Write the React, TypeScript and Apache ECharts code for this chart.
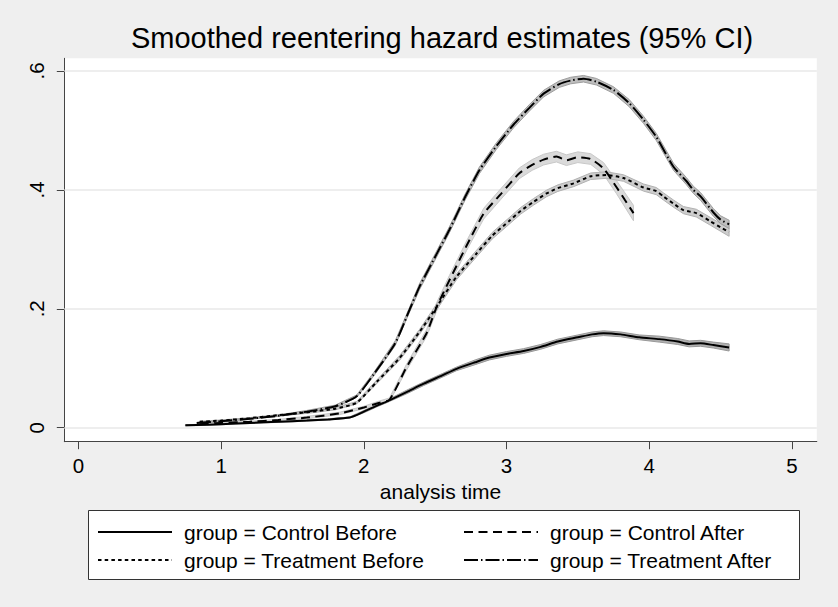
import React, { useEffect, useRef } from 'react';
import * as echarts from 'echarts';

const TITLE = 'Smoothed reentering hazard estimates (95% CI)';
const X_NAME = 'analysis time';
const X_TICKS = [0, 1, 2, 3, 4, 5];
const Y_TICKS = [0, 0.2, 0.4, 0.6];
const GROUPS = [
  'group = Control Before',
  'group = Control After',
  'group = Treatment Before',
  'group = Treatment After',
];

// Control Before (solid)
const cbX = [0.75, 0.9, 1.0, 1.2, 1.4, 1.6, 1.75, 1.9, 2.0, 2.1, 2.16, 2.3, 2.42, 2.55, 2.65, 2.78, 2.88, 3.0, 3.12, 3.24, 3.36, 3.5, 3.6, 3.68, 3.8, 3.93, 4.07, 4.2, 4.28, 4.36, 4.45, 4.56];
const cbY = [0.004, 0.005, 0.006, 0.008, 0.010, 0.012, 0.014, 0.017, 0.027, 0.038, 0.044, 0.060, 0.074, 0.088, 0.099, 0.110, 0.118, 0.124, 0.129, 0.136, 0.145, 0.152, 0.157, 0.159, 0.157, 0.152, 0.149, 0.145, 0.141, 0.142, 0.139, 0.135];
const cbCI = [0.001, 0.001, 0.001, 0.001, 0.001, 0.001, 0.001, 0.001, 0.002, 0.002, 0.002, 0.003, 0.003, 0.003, 0.003, 0.004, 0.004, 0.004, 0.004, 0.004, 0.004, 0.004, 0.004, 0.004, 0.004, 0.004, 0.005, 0.005, 0.005, 0.005, 0.005, 0.006];

// Control After (dashed)
const caX = [0.85, 1.0, 1.2, 1.4, 1.6, 1.83, 2.0, 2.11, 2.18, 2.3, 2.44, 2.51, 2.6, 2.72, 2.84, 2.96, 3.09, 3.18, 3.26, 3.35, 3.42, 3.5, 3.59, 3.68, 3.77, 3.83, 3.89];
const caY = [0.006, 0.008, 0.010, 0.013, 0.017, 0.024, 0.034, 0.042, 0.047, 0.102, 0.159, 0.203, 0.248, 0.306, 0.360, 0.393, 0.428, 0.442, 0.451, 0.456, 0.450, 0.455, 0.452, 0.436, 0.405, 0.383, 0.361];
const caCI = [0.001, 0.001, 0.001, 0.001, 0.002, 0.002, 0.002, 0.003, 0.003, 0.005, 0.006, 0.007, 0.008, 0.008, 0.009, 0.009, 0.009, 0.009, 0.009, 0.009, 0.009, 0.009, 0.009, 0.010, 0.011, 0.012, 0.013];

// Treatment Before (dotted)
const tbX = [0.85, 1.0, 1.2, 1.4, 1.6, 1.8, 1.95, 2.09, 2.25, 2.39, 2.51, 2.65, 2.79, 2.9, 3.02, 3.1, 3.19, 3.28, 3.36, 3.47, 3.59, 3.7, 3.82, 3.96, 4.05, 4.1, 4.17, 4.24, 4.33, 4.43, 4.5, 4.56];
const tbY = [0.010, 0.012, 0.016, 0.021, 0.026, 0.032, 0.042, 0.077, 0.117, 0.161, 0.203, 0.254, 0.293, 0.323, 0.348, 0.365, 0.380, 0.394, 0.403, 0.411, 0.423, 0.425, 0.420, 0.404, 0.398, 0.389, 0.377, 0.366, 0.361, 0.347, 0.337, 0.329];
const tbCI = [0.001, 0.001, 0.001, 0.001, 0.002, 0.002, 0.002, 0.003, 0.004, 0.004, 0.005, 0.005, 0.0055, 0.0055, 0.0055, 0.0055, 0.0055, 0.0055, 0.0055, 0.0055, 0.0055, 0.0055, 0.0055, 0.006, 0.006, 0.006, 0.006, 0.006, 0.0065, 0.0065, 0.0065, 0.007];

// Treatment After (long dash - dot)
const taX = [0.83, 1.0, 1.2, 1.4, 1.6, 1.8, 1.95, 2.07, 2.22, 2.32, 2.39, 2.51, 2.6, 2.71, 2.81, 2.93, 3.05, 3.16, 3.26, 3.37, 3.45, 3.54, 3.63, 3.75, 3.86, 3.96, 4.05, 4.17, 4.26, 4.31, 4.36, 4.45, 4.5, 4.56];
const taY = [0.008, 0.011, 0.015, 0.020, 0.027, 0.036, 0.053, 0.090, 0.142, 0.198, 0.237, 0.292, 0.333, 0.388, 0.433, 0.474, 0.510, 0.538, 0.562, 0.578, 0.584, 0.587, 0.582, 0.568, 0.546, 0.518, 0.489, 0.439, 0.415, 0.400, 0.389, 0.362, 0.350, 0.342];
const taCI = [0.001, 0.001, 0.001, 0.001, 0.002, 0.002, 0.002, 0.003, 0.004, 0.004, 0.005, 0.005, 0.005, 0.005, 0.0055, 0.0055, 0.0055, 0.0055, 0.0055, 0.0055, 0.0055, 0.0055, 0.0055, 0.0055, 0.006, 0.006, 0.006, 0.006, 0.006, 0.006, 0.0065, 0.0065, 0.0065, 0.007];

const FONT = '"Liberation Sans", Arial, Helvetica, sans-serif';

function bandSeries(name: string, xs: number[], ys: number[], ci: number[], fill: string, stroke: string) {
  const data = xs.map((x, i) => [x, ys[i] - ci[i], ys[i] + ci[i]]);
  return {
    type: 'custom',
    name,
    z: 2,
    silent: true,
    encode: { x: 0, y: [1, 2] },
    data,
    renderItem: (params: any, api: any) => {
      if (params.dataIndex !== 0) return null;
      const pts: number[][] = [];
      for (let i = 0; i < data.length; i++) pts.push(api.coord([data[i][0], data[i][2]]));
      for (let i = data.length - 1; i >= 0; i--) pts.push(api.coord([data[i][0], data[i][1]]));
      return {
        type: 'polygon',
        shape: { points: pts },
        style: { fill, stroke, lineWidth: 1 },
      };
    },
  };
}

function lineSeries(name: string, xs: number[], ys: number[], type: any, extra: any = {}) {
  return {
    type: 'line',
    name,
    z: 3,
    silent: true,
    symbol: 'none',
    showSymbol: false,
    smooth: 0.2,
    data: xs.map((x, i) => [x, ys[i]]),
    itemStyle: { color: '#000', opacity: 0 },
    lineStyle: { color: '#000', width: 2, type },
    emphasis: { disabled: true },
    ...extra,
  };
}

const legendCommon = {
  orient: 'vertical',
  top: 520,
  padding: 0,
  itemWidth: 74,
  itemHeight: 24,
  itemGap: 4,
  selectedMode: false,
  itemStyle: { opacity: 0, borderWidth: 0 },
  lineStyle: { width: 2, opacity: 1 },
  textStyle: { fontSize: 21, color: '#000', fontFamily: FONT, lineHeight: 24, padding: [0, 0, 0, 7] },
};

export default function App() {
  const ref = useRef<HTMLDivElement>(null);
  useEffect(() => {
    if (!ref.current) return;
    const chart = echarts.init(ref.current, undefined, { renderer: 'svg' });
    const option: any = {
      animation: false,
      backgroundColor: '#EFEFEF',
      textStyle: { fontFamily: FONT },
      grid: {
        left: 64.3,
        right: 21.2,
        top: 58.3,
        bottom: 165.3,
        show: true,
        backgroundColor: '#fff',
        borderWidth: 0,
      },
      xAxis: {
        type: 'value',
        min: -0.0988,
        max: 5.1745,
        axisLine: { show: true, onZero: false, lineStyle: { color: '#444', width: 1 } },
        axisTick: { show: true, length: 7.5, customValues: X_TICKS, lineStyle: { color: '#444' } },
        axisLabel: { customValues: X_TICKS, margin: 13, fontSize: 20.5, color: '#000', fontFamily: FONT },
        splitLine: { show: false },
        name: X_NAME,
        nameLocation: 'middle',
        nameGap: 29,
        nameTextStyle: { fontSize: 21, color: '#000', fontFamily: FONT },
      },
      yAxis: {
        type: 'value',
        min: -0.02355,
        max: 0.6214,
        axisLine: { show: true, onZero: false, lineStyle: { color: '#444', width: 1 } },
        axisTick: { show: true, length: 7.5, customValues: Y_TICKS, lineStyle: { color: '#444' } },
        axisLabel: {
          customValues: Y_TICKS,
          rotate: 90,
          margin: 17,
          fontSize: 20.5,
          color: '#000',
          fontFamily: FONT,
          formatter: (v: number) => (v === 0 ? '0' : String(Math.round(v * 10) / 10).replace(/^0/, '')),
        },
        splitLine: { show: false },
      },
      legend: [
        { ...legendCommon, left: 97, data: [GROUPS[0], GROUPS[2]] },
        { ...legendCommon, left: 463, data: [GROUPS[1], GROUPS[3]] },
      ],
      graphic: [
        {
          type: 'rect',
          shape: { x: 88.5, y: 510.5, width: 711, height: 69 },
          style: { fill: '#fff', stroke: '#333', lineWidth: 1 },
          z: 0,
        },
        {
          type: 'text',
          x: 442,
          y: 38,
          style: {
            text: TITLE,
            fontSize: 29,
            fill: '#000',
            fontFamily: FONT,
            textAlign: 'center',
            textVerticalAlign: 'middle',
          },
        },
      ],
      series: [
        bandSeries('ci-cb', cbX, cbY, cbCI, '#B0B0B0', '#989898'),
        bandSeries('ci-ca', caX, caY, caCI, '#DADADA', '#C8C8C8'),
        bandSeries('ci-tb', tbX, tbY, tbCI, '#CDCDCD', '#B2B2B2'),
        bandSeries('ci-ta', taX, taY, taCI, '#BDBDBD', '#9E9E9E'),
        lineSeries(GROUPS[0], cbX, cbY, 'solid', {
          markLine: {
            silent: true,
            z: 1,
            symbol: ['none', 'none'],
            label: { show: false },
            lineStyle: { color: '#E8E8E8', width: 1.5, type: 'solid', opacity: 1 },
            emphasis: { disabled: true },
            data: Y_TICKS.map((v) => ({ yAxis: v })),
          },
        }),
        lineSeries(GROUPS[1], caX, caY, [9, 5.5]),
        lineSeries(GROUPS[2], tbX, tbY, [3.5, 3.2]),
        lineSeries(GROUPS[3], taX, taY, [14, 3, 1.5, 3]),
      ],
    };
    chart.setOption(option);
    return () => chart.dispose();
  }, []);
  return <div ref={ref} style={{ position: 'fixed', left: 0, top: 0, width: 838, height: 607 }} />;
}
